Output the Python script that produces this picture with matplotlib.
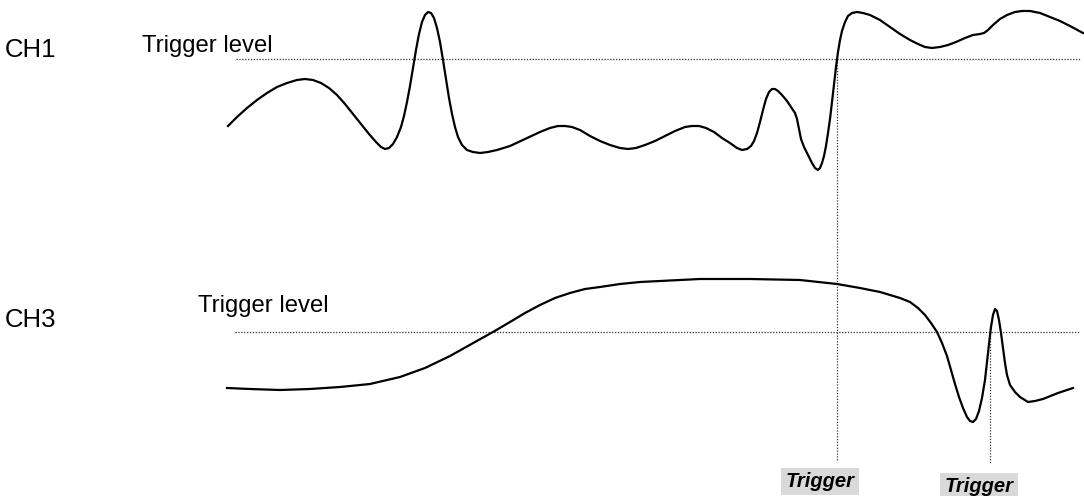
import matplotlib.pyplot as plt

# points (pixel coords, y down)
ch1_x = [228, 237, 247, 257, 267, 277, 287, 297, 305, 313, 321, 329, 337, 345, 353,
         361, 369, 376, 381, 385, 389, 393, 397, 401, 404, 407, 410, 413, 416, 419,
         422, 425, 428, 431, 434, 437, 440, 443, 446, 449, 452, 455, 458, 462, 467,
         473, 480, 488, 497, 510, 525, 540, 550, 558, 565, 572, 580, 590, 600, 610,
         620, 628, 636, 645, 655, 665, 675, 685, 692, 699, 706, 714, 722, 730, 737,
         742, 747, 751, 754, 757, 760, 763, 766, 769, 772, 775, 778, 782, 787, 791,
         795, 797, 799, 801, 804, 808, 812, 815, 818, 820, 822, 824, 826, 828, 830,
         832, 834, 836, 838, 840, 842, 845, 848, 852, 857, 863, 870, 880, 890, 900,
         910, 918, 925, 932, 940, 948, 956, 965, 973, 980, 984, 988, 993, 1000, 1007,
         1015, 1022, 1030, 1040, 1050, 1060, 1070, 1083]
ch1_y = [126, 117, 108, 100, 93, 87, 83, 80, 79, 80, 83, 88, 95, 104, 114,
         124, 134, 142, 147, 149, 148, 144, 137, 127, 116, 102, 86, 68, 50, 34,
         22, 15, 12, 13, 18, 28, 42, 60, 79, 98, 114, 127, 137, 145, 150,
         152, 153, 152, 150, 146, 139, 132, 128, 126, 126, 127, 130, 136, 141, 145,
         148, 149, 148, 145, 141, 136, 131, 127, 126, 126, 128, 132, 138, 143, 148,
         150, 149, 146, 141, 133, 122, 110, 99, 92, 89, 89, 91, 95, 101, 107,
         113, 119, 129, 139, 147, 155, 163, 168, 170, 168, 163, 156, 146, 133, 119,
         102, 84, 67, 52, 40, 31, 22, 16, 13, 12, 13, 15, 20, 27, 34,
         40, 44, 47, 48, 47, 45, 42, 38, 35, 34, 33, 30, 25, 19, 15,
         12, 11, 11, 13, 17, 21, 26, 33]

ch3_x = [227, 250, 280, 310, 340, 370, 400, 425, 450, 475, 493, 510, 525, 540, 555,
         570, 585, 600, 620, 640, 660, 700, 750, 800, 837, 860, 880, 900, 910, 918,
         925, 931, 937, 942, 947, 951, 955, 959, 963, 967, 970, 973, 976, 979, 982,
         985, 987, 989, 991, 993, 995, 997, 999, 1001, 1003, 1005, 1007, 1010, 1015,
         1020, 1028, 1035, 1043, 1058, 1073]
ch3_y = [388, 389, 390, 389, 387, 384, 377, 368, 356, 342, 332, 322, 313, 305, 298,
         293, 289, 287, 284, 282, 281, 279, 279, 280, 284, 288, 292, 298, 302, 308,
         315, 323, 332, 343, 356, 370, 384, 397, 408, 417, 421, 422, 419, 411, 398,
         380, 362, 344, 327, 315, 309, 311, 320, 333, 348, 363, 375, 385, 392,
         397, 402, 401, 399, 393, 388]

ch1_level = 59
ch3_level = 332
trig1_x = 837
trig2_x = 990

fig = plt.figure(figsize=(10.84, 4.96), dpi=100)
ax = fig.add_axes([0, 0, 1, 1])
ax.set_xlim(0, 1084)
ax.set_ylim(496, 0)
ax.axis('off')

dot = dict(color='#333333', lw=0.9, ls=(0, (1, 1.3)))
ax.plot([236, 1080], [ch1_level, ch1_level], **dot)
ax.plot([235, 1080], [ch3_level, ch3_level], **dot)
ax.plot([trig1_x, trig1_x], [ch1_level, 460], **dot)
ax.plot([trig2_x, trig2_x], [ch3_level, 463], **dot)

ax.plot(ch1_x, ch1_y, color='black', lw=1.6, solid_joinstyle='round')
ax.plot(ch3_x, ch3_y, color='black', lw=1.6, solid_joinstyle='round')

font = 'Liberation Sans'
ax.text(5, 57, 'CH1', fontsize=18.5, family=font, va='baseline')
ax.text(5, 327, 'CH3', fontsize=18.5, family=font, va='baseline')
ax.text(142, 52, 'Trigger level', fontsize=17.2, family=font, va='baseline')
ax.text(198, 312, 'Trigger level', fontsize=17.2, family=font, va='baseline')

box = dict(facecolor='#d9d9d9', edgecolor='none', pad=3)
ax.text(820, 487, 'Trigger', fontsize=14.5, family=font, weight='bold', style='italic',
        ha='center', va='baseline', bbox=box)
ax.text(979, 492, 'Trigger', fontsize=14.5, family=font, weight='bold', style='italic',
        ha='center', va='baseline', bbox=box)

fig.savefig('out.png', dpi=100)
